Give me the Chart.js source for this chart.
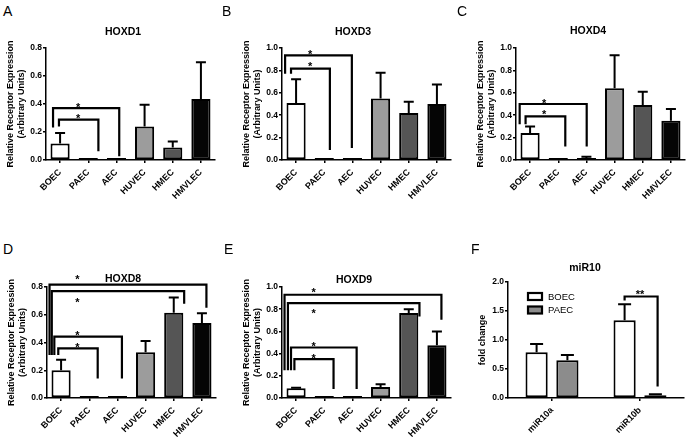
<!DOCTYPE html>
<html>
<head>
<meta charset="utf-8">
<script src="https://cdn.jsdelivr.net/npm/chart.js@4.4.0/dist/chart.umd.min.js"></script>
<style>
  body { margin: 0; background: #fff; }
  #fig { position: relative; width: 689px; height: 438px; overflow: hidden; font-family: 'Liberation Sans', Arial, sans-serif; }
  #fig canvas { position: absolute; }
  .letter { position: absolute; font-size: 14px; line-height: 14px; color: #000; }
</style>
</head>
<body>
<div id="fig"></div>
<script>
const FONT = "'Liberation Sans', Arial, sans-serif";

const cells = ['BOEC', 'PAEC', 'AEC', 'HUVEC', 'HMEC', 'HMVLEC'];
const cellColors = ['#ffffff', '#7a7a7a', '#3a3a3a', '#9c9c9c', '#555555', '#050505'];

const hoxd1Mean = [0.117, 0.003, 0.003, 0.24, 0.09, 0.436];
const hoxd1Sem  = [0.076, 0.002, 0.002, 0.155, 0.043, 0.262];
const hoxd3Mean = [0.51, 0.01, 0.012, 0.55, 0.42, 0.5];
const hoxd3Sem  = [0.21, 0.003, 0.004, 0.23, 0.1, 0.175];
const hoxd4Mean = [0.24, 0.005, 0.018, 0.64, 0.49, 0.35];
const hoxd4Sem  = [0.06, 0.002, 0.01, 0.295, 0.12, 0.105];
const hoxd8Mean = [0.2, 0.003, 0.003, 0.33, 0.615, 0.54];
const hoxd8Sem  = [0.075, 0.002, 0.002, 0.08, 0.11, 0.07];
const hoxd9Mean = [0.087, 0.002, 0.002, 0.1, 0.765, 0.476];
const hoxd9Sem  = [0.006, 0, 0, 0.023, 0.035, 0.124];

const mirGroups = ['miR10a', 'miR10b'];
const mirBoec    = [0.787, 1.34];
const mirBoecSem = [0.143, 0.275];
const mirPaec    = [0.65, 0.046];
const mirPaecSem = [0.09, 0.017];

const ticks08 = [0, 0.2, 0.4, 0.6, 0.8];
const ticks10 = [0, 0.2, 0.4, 0.6, 0.8, 1.0];
const ticks20 = [0, 0.5, 1.0, 1.5, 2.0];

// significance brackets: [from, to, height, left leg end, right leg end] (x in category units)
const hoxd1Brackets = [[-0.25, 2.1, 0.371, 0.233, 0.026], [-0.04, 1.36, 0.288, 0.24, 0.062]];
const hoxd3Brackets = [[-0.39, 1.98, 0.934, 0.77, 0.107], [-0.18, 1.2, 0.815, 0.77, 0.09]];
const hoxd4Brackets = [[-0.37, 2.01, 0.5, 0.32, 0.12], [-0.16, 1.25, 0.39, 0.32, 0.12]];
const hoxd8Brackets = [[-0.41, 5.16, 0.817, 0.31, 0.65], [-0.33, 4.37, 0.77, 0.31, 0.68],
                       [-0.24, 2.16, 0.443, 0.31, 0.14], [-0.1, 1.3, 0.357, 0.31, 0.14]];
const hoxd9Brackets = [[-0.41, 5.16, 0.93, 0.25, 0.705], [-0.29, 4.38, 0.855, 0.25, 0.735],
                       [-0.18, 2.15, 0.455, 0.25, 0.08], [-0.06, 1.33, 0.35, 0.25, 0.08]];
const mirBrackets   = [[0.825, 1.2, 1.75, 1.68, 0.2]];

// star marks: [x, y, text]
const hoxd1Stars = [[0.64, 0.395, '*'], [0.64, 0.317, '*']];
const hoxd3Stars = [[0.5, 0.97, '*'], [0.5, 0.86, '*']];
const hoxd4Stars = [[0.5, 0.531, '*'], [0.5, 0.427, '*']];
const hoxd8Stars = [[0.58, 0.872, '*'], [0.58, 0.708, '*'], [0.58, 0.472, '*'], [0.58, 0.386, '*']];
const hoxd9Stars = [[0.62, 0.98, '*'], [0.62, 0.79, '*'], [0.62, 0.49, '*'], [0.62, 0.385, '*']];
const mirStars   = [[1.0, 1.83, '**']];

const receptorTitle = ['Relative Receptor Expression', '(Arbitrary Units)'];

function cellDataset(mean, sem) {
  return [{
    data: mean, sem: sem,
    backgroundColor: cellColors, borderColor: '#000', borderWidth: 2, borderSkipped: false,
    barPercentage: 0.68, categoryPercentage: 1, minBarLength: 2
  }];
}

const panels = [
  { letter: 'A', letterAt: [3, 4], title: 'HOXD1', titleAt: [123, 32], box: [0, 16, 225, 200], plot: [46, 48, 215, 160],
    labels: cells, datasets: cellDataset(hoxd1Mean, hoxd1Sem), ticks: ticks08, yTitle: receptorTitle, titlePad: 5.6,
    brackets: hoxd1Brackets, stars: hoxd1Stars, cap: 5 },
  { letter: 'B', letterAt: [222, 4], title: 'HOXD3', titleAt: [353, 32], box: [236, 16, 225, 200], plot: [282, 48, 451, 160],
    labels: cells, datasets: cellDataset(hoxd3Mean, hoxd3Sem), ticks: ticks10, yTitle: receptorTitle, titlePad: 5.6,
    brackets: hoxd3Brackets, stars: hoxd3Stars, cap: 5 },
  { letter: 'C', letterAt: [457, 4], title: 'HOXD4', titleAt: [588, 31], box: [470, 16, 219, 200], plot: [516, 48, 685, 160],
    labels: cells, datasets: cellDataset(hoxd4Mean, hoxd4Sem), ticks: ticks10, yTitle: receptorTitle, titlePad: 5.6,
    brackets: hoxd4Brackets, stars: hoxd4Stars, cap: 5 },
  { letter: 'D', letterAt: [3, 242], title: 'HOXD8', titleAt: [123, 279], box: [1, 250, 225, 188], plot: [47, 287, 216, 398],
    labels: cells, datasets: cellDataset(hoxd8Mean, hoxd8Sem), ticks: ticks08, yTitle: receptorTitle, titlePad: 5.6,
    brackets: hoxd8Brackets, stars: hoxd8Stars, cap: 5 },
  { letter: 'E', letterAt: [224, 242], title: 'HOXD9', titleAt: [354, 280], box: [236, 250, 225, 188], plot: [282, 287, 451, 398],
    labels: cells, datasets: cellDataset(hoxd9Mean, hoxd9Sem), ticks: ticks10, yTitle: receptorTitle, titlePad: 5.6,
    brackets: hoxd9Brackets, stars: hoxd9Stars, cap: 5 },
  { letter: 'F', letterAt: [471, 242], title: 'miR10', titleAt: [585, 268], box: [462, 250, 227, 188], plot: [508, 282, 684, 398],
    labels: mirGroups, ticks: ticks20, yTitle: 'fold change', titlePad: 15.6,
    datasets: [
      { label: 'BOEC', data: mirBoec, sem: mirBoecSem, backgroundColor: '#ffffff', borderColor: '#000', borderWidth: 2,
        borderSkipped: false, barPercentage: 0.72, categoryPercentage: 0.7, minBarLength: 2 },
      { label: 'PAEC', data: mirPaec, sem: mirPaecSem, backgroundColor: '#8c8c8c', borderColor: '#000', borderWidth: 2,
        borderSkipped: false, barPercentage: 0.72, categoryPercentage: 0.7, minBarLength: 2 }
    ],
    brackets: mirBrackets, stars: mirStars, cap: 6.5, legend: true }
];

function panelMarks(p) {
  return {
    id: 'panelMarks',
    afterDatasetsDraw(chart) {
      const ctx = chart.ctx, xs = chart.scales.x, ys = chart.scales.y;
      ctx.save();
      ctx.strokeStyle = '#000';
      ctx.lineWidth = 2;
      ctx.lineJoin = 'miter';
      chart.data.datasets.forEach((ds, d) => {
        chart.getDatasetMeta(d).data.forEach((bar, i) => {
          const top = ys.getPixelForValue(ds.data[i] + ds.sem[i]);
          if (bar.y - top < 0.5) return;
          ctx.beginPath();
          ctx.moveTo(bar.x, bar.y);
          ctx.lineTo(bar.x, top);
          ctx.moveTo(bar.x - p.cap, top);
          ctx.lineTo(bar.x + p.cap, top);
          ctx.stroke();
        });
      });
      ctx.lineWidth = 2.2;
      p.brackets.forEach(([a, b, h, endA, endB]) => {
        const xa = xs.getPixelForValue(a), xb = xs.getPixelForValue(b), yh = ys.getPixelForValue(h);
        ctx.beginPath();
        ctx.moveTo(xa, ys.getPixelForValue(endA));
        ctx.lineTo(xa, yh);
        ctx.lineTo(xb, yh);
        ctx.lineTo(xb, ys.getPixelForValue(endB));
        ctx.stroke();
      });
      ctx.fillStyle = '#000';
      ctx.textAlign = 'center';
      ctx.textBaseline = 'alphabetic';
      ctx.font = 'bold 11px ' + FONT;
      p.stars.forEach(([sx, sy, t]) => {
        ctx.fillText(t, xs.getPixelForValue(sx), ys.getPixelForValue(sy) + 6.3);
      });
      ctx.font = 'bold 10.5px ' + FONT;
      ctx.textBaseline = 'middle';
      ctx.fillText(p.title, p.titleAt[0] - p.box[0], p.titleAt[1] - p.box[1]);
      if (p.legend) {
        const ca = chart.chartArea;
        ctx.font = '9.5px ' + FONT;
        ctx.textAlign = 'left';
        chart.data.datasets.forEach((ds, d) => {
          const bx = ca.left + 20, by = ca.top + 11 + d * 13.5;
          ctx.fillStyle = ds.backgroundColor;
          ctx.fillRect(bx, by, 14, 7);
          ctx.strokeRect(bx, by, 14, 7);
          ctx.fillStyle = '#000';
          ctx.fillText(ds.label, bx + 20, by + 4);
        });
      }
      ctx.restore();
    }
  };
}

const fig = document.getElementById('fig');

panels.forEach(p => {
  const lt = document.createElement('div');
  lt.className = 'letter';
  lt.textContent = p.letter;
  lt.style.left = p.letterAt[0] + 'px';
  lt.style.top = p.letterAt[1] + 'px';
  fig.appendChild(lt);

  const cv = document.createElement('canvas');
  cv.width = p.box[2];
  cv.height = p.box[3];
  cv.style.left = p.box[0] + 'px';
  cv.style.top = p.box[1] + 'px';
  fig.appendChild(cv);

  const tickFont = { family: FONT, size: 8.5, weight: 'bold' };
  new Chart(cv, {
    type: 'bar',
    data: { labels: p.labels, datasets: p.datasets },
    options: {
      responsive: false,
      animation: false,
      layout: { padding: { left: 0, top: p.plot[1] - p.box[1], right: p.box[0] + p.box[2] - p.plot[2], bottom: 0 } },
      plugins: { legend: { display: false }, tooltip: { enabled: false } },
      scales: {
        x: {
          offset: true,
          grid: { offset: false, drawOnChartArea: false, tickLength: 3, color: '#000', lineWidth: 1.5 },
          border: { color: '#000', width: 1.5 },
          ticks: { minRotation: 45, maxRotation: 45, autoSkip: false, padding: 4, color: '#000',
                   font: { family: FONT, size: 9, weight: 'bold' } },
          afterFit: s => { s.height = p.box[1] + p.box[3] - p.plot[3]; }
        },
        y: {
          min: 0,
          max: p.ticks[p.ticks.length - 1],
          grid: { drawOnChartArea: false, tickLength: 3, color: '#000', lineWidth: 1.5 },
          border: { color: '#000', width: 1.5 },
          ticks: { stepSize: p.ticks[1] - p.ticks[0], padding: 1, color: '#000', font: tickFont,
                   callback: v => v.toFixed(1) },
          title: { display: true, text: p.yTitle, color: '#000',
                   font: { family: FONT, size: 9, weight: 'bold' }, padding: { top: p.titlePad, bottom: 0 } },
          afterFit: s => { s.width = 46; }
        }
      }
    },
    plugins: [panelMarks(p)]
  });
});
</script>
</body>
</html>
